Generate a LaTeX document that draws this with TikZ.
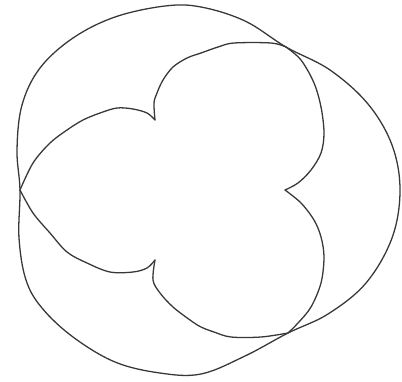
\documentclass[tikz,border=0pt]{standalone}
\usepackage{tikz}

\tikzset{
  curve/.style={line width=1.1pt, draw=black!78, line join=round, line cap=round},
}

\begin{document}
\begin{tikzpicture}[x=0.03cm, y=-0.03cm]
% picture frame (pixel grid of the figure)
\useasboundingbox (0,0) rectangle (402,381);
% Outer closed curve
\draw[curve] plot[smooth cycle, tension=0.6] coordinates {
  (20,190) (17,150) (22,105) (40,68) (73,38) (115,17) (165,6) (201,7)
  (245,21) (286,47) (330,70) (368,104) (392,145) (400,190) (392,238)
  (366,283) (328,314) (288,333) (245,356) (201,374) (160,373) (115,362)
  (73,337) (42,308) (26,280) (19,238)};
% Inner three-cusped curve, left lobe
\draw[curve] plot[smooth, tension=0.55] coordinates {
  (155,120) (147,113) (133,109) (117,108) (100,113) (83,120) (67,130)
  (50,143) (33,163) (20,190)};
\draw[curve] plot[smooth, tension=0.55] coordinates {
  (20,190) (33,213) (50,233) (67,252) (87,263) (110,272) (133,272)
  (147,268) (155,260)};
% Lower right lobe
\draw[curve] plot[smooth, tension=0.55] coordinates {
  (155,260) (153,280) (160,293) (173,307) (190,320) (201,327) (214,332)
  (231,337) (261,337) (288,333)};
\draw[curve] plot[smooth, tension=0.55] coordinates {
  (288,333) (298,323) (311,307) (321,283) (324,257) (321,237) (314,220)
  (301,203) (285,190)};
% Upper right lobe
\draw[curve] plot[smooth, tension=0.55] coordinates {
  (285,190) (298,183) (311,170) (321,153) (324,133) (321,107) (314,83)
  (301,60) (286,47)};
\draw[curve] plot[smooth, tension=0.55] coordinates {
  (286,47) (271,43) (234,43) (218,47) (201,53) (187,58) (173,67)
  (163,80) (157,93) (154,103) (155,120)};
\end{tikzpicture}
\end{document}
